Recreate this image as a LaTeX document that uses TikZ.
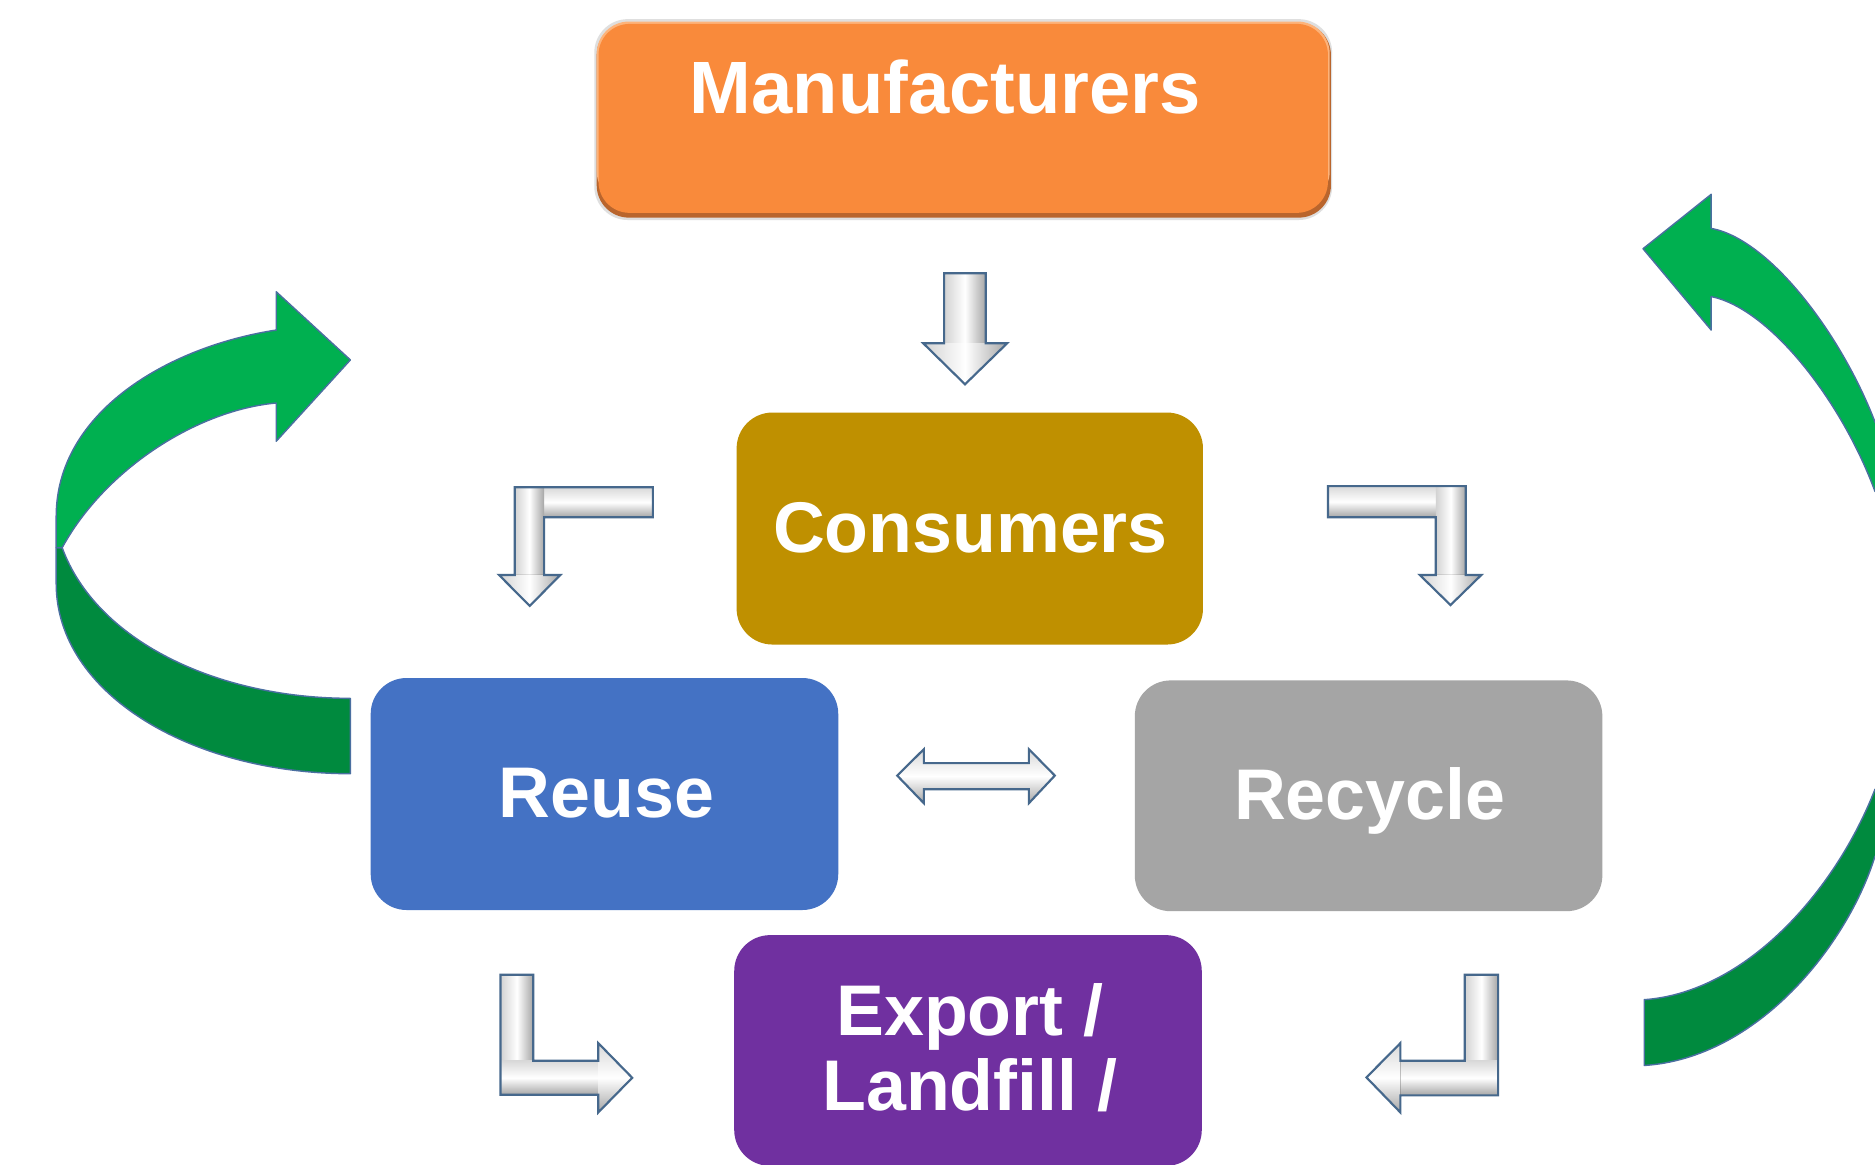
\documentclass[tikz,border=0pt]{standalone}
\usepackage{fontspec}
\setmainfont{Liberation Sans}
\definecolor{orangeM}{HTML}{F98A3B}
\definecolor{orangeS}{HTML}{B9652D}
\definecolor{orangeH}{HTML}{FDB37A}
\definecolor{goldC}{HTML}{BF9000}
\definecolor{blueR}{HTML}{4472C4}
\definecolor{grayR}{HTML}{A5A5A5}
\definecolor{purpleE}{HTML}{7030A0}
\definecolor{greenL}{HTML}{00B050}
\definecolor{greenD}{HTML}{008A3E}
\definecolor{edgeB}{HTML}{4A6FA0}
\definecolor{arrowEdge}{HTML}{46688C}
\tikzset{
  box/.style={draw=none, inner sep=0pt, rounded corners=30pt},
  lbl/.style={text=white, inner sep=0pt, anchor=base, font=\fontsize{60}{63}\selectfont\bfseries},
  wline/.style={draw=arrowEdge, line width=1.8pt, line join=miter},
  vgrad/.style={left color=gray!35, right color=gray!70, middle color=white},
  hgrad/.style={top color=gray!30, bottom color=gray!70, middle color=white},
  gline/.style={draw=edgeB, line width=1.2pt, line join=round}
}
\begin{document}
\begin{tikzpicture}[x=1pt,y=-1pt]
\useasboundingbox (0,0) rectangle (1568,974);
\clip (0,0) rectangle (1568,974);
\fill[white] (0,0) rectangle (1568,974);

% ---------- boxes ----------
\fill[gray!25, rounded corners=28pt] (497,16) rectangle (1114,184);
\fill[orangeS, rounded corners=27pt] (499,19) rectangle (1113,182);
\fill[orangeH, rounded corners=27pt] (499,18) rectangle (1112,170);
\node[box, fill=orangeM, rounded corners=26pt, minimum width=610pt, minimum height=158pt] (manu) at (805.5,99) {};
\node[lbl, font=\fontsize{62}{65}\selectfont\bfseries] (manuT) at (790.5,95) {Manufacturers};

\node[box, fill=goldC, minimum width=390pt, minimum height=194pt] (cons) at (811,442) {};
\node[lbl] (consT) at (811.5,462) {Consumers};

\node[box, fill=blueR, minimum width=391pt, minimum height=194pt] (reuse) at (505.5,664) {};
\node[lbl] (reuseT) at (507,684) {Reuse};

\node[box, fill=grayR, minimum width=391pt, minimum height=193pt] (recyc) at (1144.5,665.5) {};
\node[lbl] (recycT) at (1145.5,685) {Recycle};

\node[box, fill=purpleE, minimum width=391pt, minimum height=193pt] (exp) at (809.5,878.5) {};
\node[lbl] (expT1) at (811,866) {Export /};
\node[lbl] (expT2) at (811,929) {Landfill /};

% ---------- white block arrows ----------
% Manufacturers -> Consumers
\fill[vgrad] (789.5,228.5) rectangle (824.3,288);
\fill[vgrad] (772,287) -- (842.3,287) -- (807,321.4) -- cycle;
\draw[wline] (789.5,228.5) -- (824.3,228.5) -- (824.3,287) -- (842.3,287)
  -- (807,321.4) -- (772,287) -- (789.5,287) -- cycle;

% Consumers -> Reuse
\fill[hgrad] (430.5,407.5) rectangle (546,432.6);
\fill[vgrad] (430.5,407.5) rectangle (455,481);
\fill[vgrad] (417.3,480.8) -- (468.6,480.8) -- (443,506.7) -- cycle;
\draw[wline] (546,407.5) -- (430.5,407.5) -- (430.5,480.8) -- (417.3,480.8)
  -- (443,506.7) -- (468.6,480.8) -- (455,480.8) -- (455,432.6) -- (546,432.6) -- cycle;

% Consumers -> Recycle
\fill[hgrad] (1110.6,406.5) rectangle (1225.7,432.6);
\fill[vgrad] (1200.7,406.5) rectangle (1225.7,481);
\fill[vgrad] (1187.3,480.8) -- (1238.8,480.8) -- (1213,506) -- cycle;
\draw[wline] (1110.6,406.5) -- (1225.7,406.5) -- (1225.7,480.8) -- (1238.8,480.8)
  -- (1213,506) -- (1187.3,480.8) -- (1200.7,480.8) -- (1200.7,432.6) -- (1110.6,432.6) -- cycle;

% Reuse <-> Recycle
\fill[hgrad] (750.3,648.6) -- (772.6,626.5) -- (772.6,638.2) -- (860.4,638.2) -- (860.4,626.5)
  -- (882.1,648.6) -- (860.4,671.7) -- (860.4,660) -- (772.6,660) -- (772.6,671.7) -- cycle;
\draw[wline] (750.3,648.6) -- (772.6,626.5) -- (772.6,638.2) -- (860.4,638.2) -- (860.4,626.5)
  -- (882.1,648.6) -- (860.4,671.7) -- (860.4,660) -- (772.6,660) -- (772.6,671.7) -- cycle;

% Reuse -> Export
\fill[vgrad] (418.6,815.2) rectangle (445.9,915.5);
\fill[hgrad] (418.6,887.1) rectangle (500.3,915.5);
\fill[hgrad] (500.3,872.3) -- (528.7,901.3) -- (500.3,930.3) -- cycle;
\draw[wline] (418.6,815.2) -- (445.9,815.2) -- (445.9,887.1) -- (500.3,887.1) -- (500.3,872.3)
  -- (528.7,901.3) -- (500.3,930.3) -- (500.3,915.5) -- (418.6,915.5) -- cycle;

% Recycle -> Export
\fill[vgrad] (1224.9,815.2) rectangle (1252.8,916);
\fill[hgrad] (1171.1,887) rectangle (1252.8,916);
\fill[hgrad] (1171.1,872.3) -- (1142.7,901) -- (1171.1,930.3) -- cycle;
\draw[wline] (1252.8,815.2) -- (1224.9,815.2) -- (1224.9,887) -- (1171.1,887) -- (1171.1,872.3)
  -- (1142.7,901) -- (1171.1,930.3) -- (1171.1,916) -- (1252.8,916) -- cycle;

% ---------- green curved arrows ----------
% left
\filldraw[gline, fill=greenD] (47,458) -- (52,458) .. controls (80,535) and (180,584) .. (293,584)
  -- (293,647) .. controls (160,647) and (47,580) .. (47,488) -- cycle;
\filldraw[gline, fill=greenL] (47,432) .. controls (47,345) and (140,290) .. (231,276)
  -- (231,244) -- (293,301) -- (231,369) -- (231,337)
  .. controls (165,343) and (88,392) .. (52,458) -- (47,458) -- cycle;

% right
\filldraw[gline, fill=greenD] (1568,660) .. controls (1535,745) and (1460,830) .. (1375,836)
  -- (1375,891) .. controls (1470,885) and (1545,790) .. (1568,716) -- (1620,690) -- cycle;
\filldraw[gline, fill=greenL] (1431,191) .. controls (1480,200) and (1540,280) .. (1568,353)
  -- (1620,420) -- (1568,411) .. controls (1540,335) and (1480,258) .. (1431,248)
  -- (1431,276) -- (1374,208) -- (1431,162.5) -- cycle;
\end{tikzpicture}
\end{document}
